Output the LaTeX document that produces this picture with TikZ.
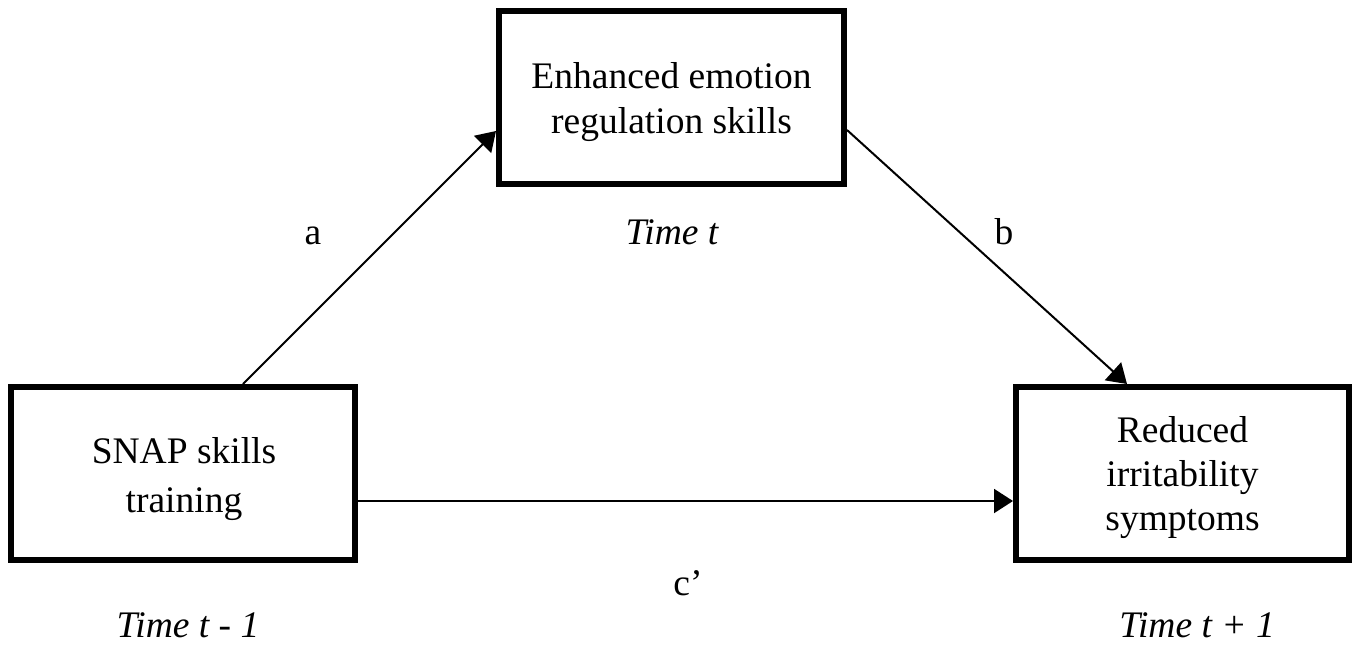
\documentclass[tikz,border=0pt]{standalone}
\usepackage{fontspec}
\setmainfont{Liberation Serif}
\usetikzlibrary{arrows.meta,calc}
\begin{document}
\begin{tikzpicture}[x=1pt,y=-1pt,
  box/.style={draw, line width=6pt, rectangle, inner sep=0pt, minimum height=173pt},
  txt/.style={align=center, inner sep=0pt},
  lbl/.style={inner sep=0pt, anchor=base, font=\fontsize{37.5}{45}\selectfont},
  conn/.style={line width=2pt, -{Triangle[length=19pt,width=24pt]}}]
\useasboundingbox (0,0) rectangle (1359,648);
% boxes
\node[box, minimum width=345pt] (top) at (671.5,97.5) {};
\node[box, minimum width=344pt] (left) at (183,473.5) {};
\node[box, minimum width=333pt] (right) at (1182.5,473.5) {};
% box texts
\node[txt, font=\fontsize{37.5}{45}\selectfont] (toptext) at (671.5,101.8) {Enhanced emotion\\regulation skills};
\node[txt, font=\fontsize{37.5}{49}\selectfont] (lefttext) at (184,479) {SNAP skills\\training};
\node[txt, font=\fontsize{37.5}{44}\selectfont] (righttext) at (1182.5,477.3) {Reduced\\irritability\\symptoms};
% labels
\node[lbl] (la) at (313,244) {a};
\node[lbl] (lt) at (672,244) {\itshape Time t};
\node[lbl] (lb) at (1004,244) {b};
\node[lbl] (lc) at (688,595) {c’};
\node[lbl] (lt1) at (188,637) {\itshape Time t - 1};
\node[lbl] (lt2) at (1197,637) {\itshape Time t + 1};
% connectors
\coordinate (ax) at (243,0);
\coordinate (ay) at (0,131);
\coordinate (by) at (0,130);
\coordinate (bx) at (1127,0);
\coordinate (cy) at (0,501);
\draw[conn] (left.north -| ax) -- (top.west |- ay);
\draw[conn] (top.east |- by) -- (right.north -| bx);
\draw[conn] (left.east |- cy) -- (right.west |- cy);
\end{tikzpicture}
\end{document}
